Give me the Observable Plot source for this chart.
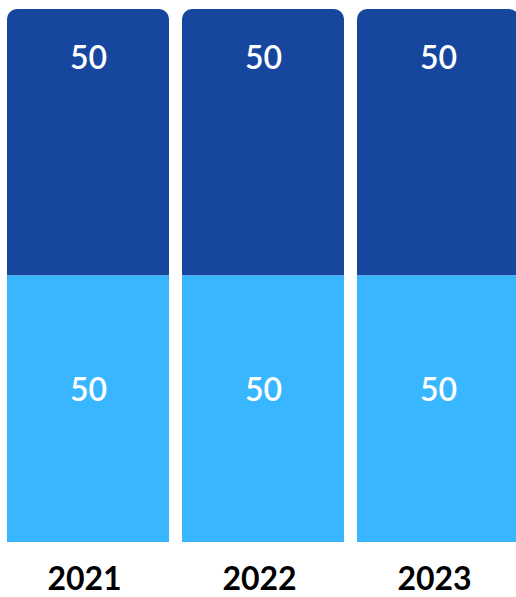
<!DOCTYPE html>
<html>
<head>
<meta charset="utf-8">
<script src="https://cdn.jsdelivr.net/npm/d3@7"></script>
<script src="https://cdn.jsdelivr.net/npm/@observablehq/plot@0.6"></script>
<style>
  html, body { margin: 0; padding: 0; background: #ffffff; }
  #chart svg { display: block; }
</style>
</head>
<body>
<div id="chart"></div>
<script>
const years = ["2021", "2022", "2023"];
const bottomValues = [50, 50, 50];
const topValues = [50, 50, 50];
const seriesColors = { bottom: "#38b6ff", top: "#17469e" };

const bottomRows = years.map((yr, i) => ({ year: yr, series: "bottom", value: bottomValues[i], y1: 0, y2: bottomValues[i] }));
const topRows = years.map((yr, i) => ({ year: yr, series: "top", value: topValues[i], y1: bottomValues[i], y2: bottomValues[i] + topValues[i] }));

const chart = Plot.plot({
  width: 516,
  height: 597,
  marginTop: 9,
  marginBottom: 55,
  marginLeft: 0,
  marginRight: 0,
  style: { background: "#ffffff", overflow: "hidden" },
  x: { domain: years, range: [-6, 532], paddingInner: 13 / 175, paddingOuter: 13 / 175, label: null },
  y: { domain: [0, 100], axis: null },
  marks: [
    Plot.rectY(topRows, { x: "year", y1: "y1", y2: "y2", fill: seriesColors.top, ry2: 10 }),
    Plot.rectY(bottomRows, { x: "year", y1: "y1", y2: "y2", fill: seriesColors.bottom }),
    Plot.text(topRows, { x: "year", y: d => (d.y1 + d.y2) / 2, text: d => String(d.value), dy: -84, fill: "white", fontSize: 32, fontWeight: 600, fontFamily: "Lato, sans-serif" }),
    Plot.text(bottomRows, { x: "year", y: d => (d.y1 + d.y2) / 2, text: d => String(d.value), dy: -19, fill: "white", fontSize: 32, fontWeight: 600, fontFamily: "Lato, sans-serif" }),
    Plot.axisX({ tickSize: 0, tickPadding: 25, fontSize: 32, fontWeight: 700, fontFamily: "Lato, sans-serif", fill: "#000", label: null, dx: -4 })
  ]
});
document.getElementById("chart").appendChild(chart);
</script>
</body>
</html>
